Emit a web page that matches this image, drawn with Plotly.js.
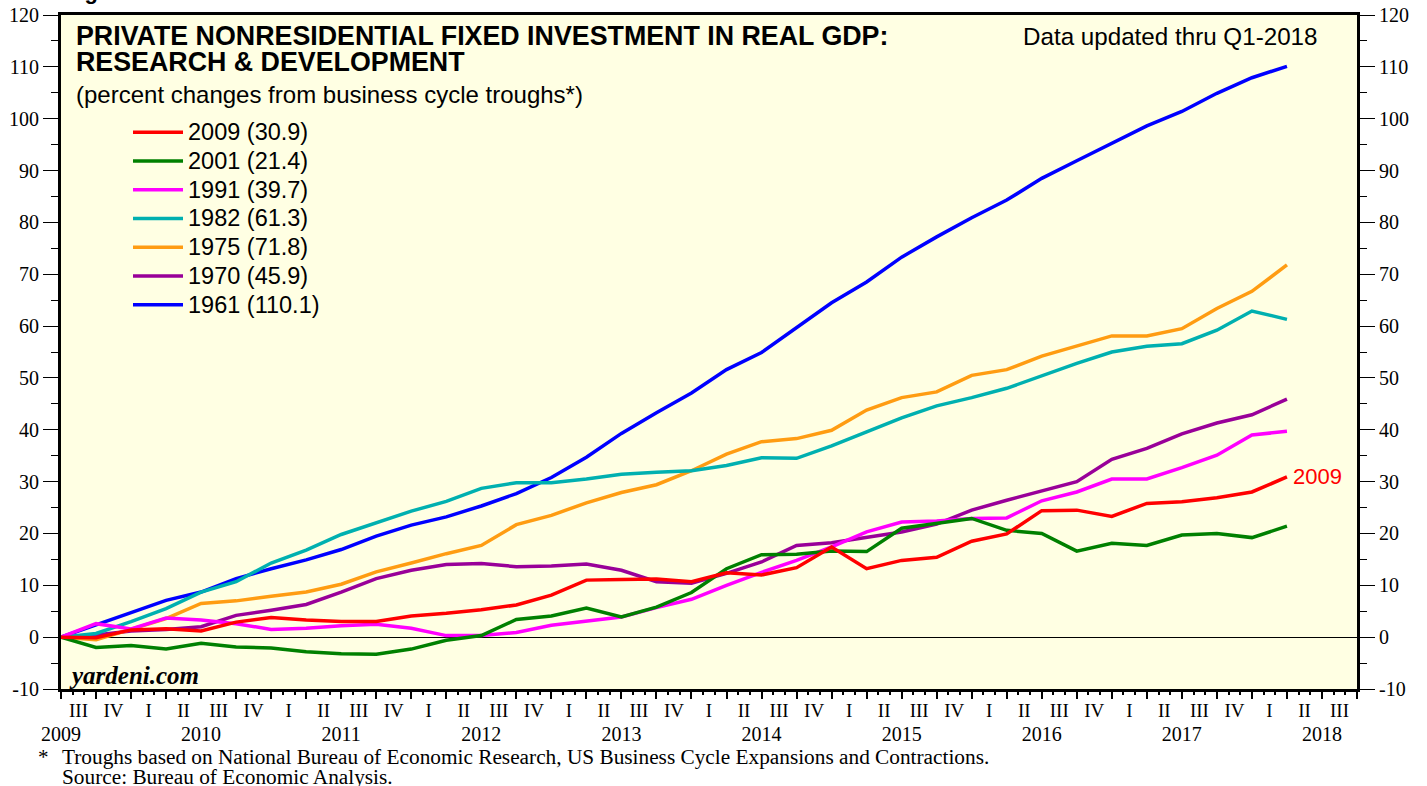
<!DOCTYPE html>
<html>
<head>
<meta charset="utf-8">
<script src="https://cdn.plot.ly/plotly-3.0.1.min.js"></script>
<style>
  html, body { margin: 0; padding: 0; background: #ffffff; }
  #chart { width: 1427px; height: 786px; }
</style>
</head>
<body>
<div id="chart"></div>
<script>
// ---------- DATA ----------
// Quarters since the 2009 business-cycle trough (Q2-2009 = 0) through Q1-2018
const quarters = [
  "2009Q2","2009Q3","2009Q4","2010Q1","2010Q2","2010Q3","2010Q4","2011Q1","2011Q2",
  "2011Q3","2011Q4","2012Q1","2012Q2","2012Q3","2012Q4","2013Q1","2013Q2","2013Q3",
  "2013Q4","2014Q1","2014Q2","2014Q3","2014Q4","2015Q1","2015Q2","2015Q3","2015Q4",
  "2016Q1","2016Q2","2016Q3","2016Q4","2017Q1","2017Q2","2017Q3","2017Q4","2018Q1"
];

const s2009 = [0, -0.1, 1.4, 1.6, 1.2, 2.9, 3.8, 3.3, 3.0, 3.0, 4.1, 4.6, 5.3, 6.2, 8.1, 11.0, 11.1, 11.2,
  10.7, 12.4, 12.0, 13.4, 17.4, 13.2, 14.8, 15.4, 18.5, 19.9, 24.4, 24.5, 23.3, 25.8, 26.1, 26.9, 28.0, 30.9];
const s2001 = [0, -2.0, -1.6, -2.3, -1.2, -1.9, -2.1, -2.8, -3.2, -3.3, -2.3, -0.6, 0.3, 3.4, 4.1, 5.6, 3.9, 5.8,
  8.6, 13.2, 15.9, 16.0, 16.6, 16.5, 21.0, 22.0, 22.9, 20.6, 20.0, 16.6, 18.1, 17.7, 19.7, 20.0, 19.2, 21.4];
const s1991 = [0, 2.6, 1.6, 3.7, 3.3, 2.6, 1.5, 1.7, 2.2, 2.5, 1.7, 0.3, 0.3, 0.9, 2.3, 3.1, 3.9, 5.7,
  7.3, 10.0, 12.5, 14.8, 17.4, 20.3, 22.2, 22.4, 22.9, 23.0, 26.3, 28.0, 30.5, 30.5, 32.7, 35.1, 39.0, 39.7];
const s1982 = [0, 0.7, 3.0, 5.5, 8.7, 10.7, 14.3, 16.8, 19.8, 22.1, 24.3, 26.2, 28.7, 29.8, 29.8, 30.5, 31.4, 31.8,
  32.1, 33.1, 34.6, 34.5, 36.9, 39.6, 42.3, 44.6, 46.2, 48.0, 50.4, 52.8, 55.0, 56.1, 56.6, 59.2, 62.9, 61.3];
const s1975 = [0, -0.5, 1.5, 3.6, 6.5, 7.0, 7.9, 8.7, 10.2, 12.6, 14.3, 16.1, 17.7, 21.7, 23.5, 25.9, 27.9, 29.4,
  32.1, 35.3, 37.7, 38.3, 39.9, 43.8, 46.2, 47.3, 50.5, 51.6, 54.2, 56.1, 58.1, 58.1, 59.5, 63.4, 66.7, 71.8];
const s1970 = [0, 0.4, 1.2, 1.5, 2.0, 4.2, 5.2, 6.3, 8.7, 11.3, 12.9, 14.0, 14.2, 13.6, 13.7, 14.1, 12.9, 10.7,
  10.4, 12.3, 14.5, 17.7, 18.2, 19.3, 20.3, 21.8, 24.5, 26.4, 28.2, 30.0, 34.3, 36.4, 39.2, 41.3, 42.9, 45.9];
const s1961 = [0, 2.4, 4.7, 7.1, 8.7, 11.3, 13.2, 14.9, 16.9, 19.5, 21.6, 23.2, 25.3, 27.7, 30.8, 34.7, 39.3, 43.3,
  47.1, 51.6, 54.9, 59.7, 64.5, 68.5, 73.3, 77.2, 80.9, 84.3, 88.5, 91.9, 95.2, 98.6, 101.4, 104.9, 107.9, 110.1];

const troughYears = ["2009", "2001", "1991", "1982", "1975", "1970", "1961"];

// Axis labels
const quarterLabels = [
  "III","IV",
  "I","II","III","IV", "I","II","III","IV", "I","II","III","IV", "I","II","III","IV",
  "I","II","III","IV", "I","II","III","IV", "I","II","III","IV", "I","II","III","IV",
  "I","II","III"
];
const yearLabels = ["2009","2010","2011","2012","2013","2014","2015","2016","2017","2018"];
const yTickVals = [-10, 0, 10, 20, 30, 40, 50, 60, 70, 80, 90, 100, 110, 120];
const yTickText = ["-10","0","10","20","30","40","50","60","70","80","90","100","110","120"];

// ---------- STYLE ----------
const SANS = "'Liberation Sans', Arial, Helvetica, sans-serif";
const SERIF = "'Liberation Serif', 'Times New Roman', Times, serif";
const colors = {
  "2009": "#FF0000", "2001": "#008000", "1991": "#FF00FF", "1982": "#00B0B0",
  "1975": "#FF9C12", "1970": "#990099", "1961": "#0000FF"
};
const seriesData = { "2009": s2009, "2001": s2001, "1991": s1991, "1982": s1982,
  "1975": s1975, "1970": s1970, "1961": s1961 };

const W = 1427, H = 786;
const M = { l: 61, r: 70, t: 15, b: 97 };
const PX = px => (px - M.l) / (W - M.l - M.r);
const PY = py => (H - M.b - py) / (H - M.t - M.b);

const xIdx = quarters.map((q, i) => i);

// draw oldest first, so 2009 is on top; legend reversed to show 2009 first
const traces = troughYears.slice().reverse().map(yr => {
  const vals = seriesData[yr];
  return {
    type: "scatter", mode: "lines",
    x: xIdx, y: vals,
    name: '<span style="font-size:23.5px">' + yr + " (" + vals[vals.length - 1].toFixed(1) + ")</span>",
    line: { color: colors[yr], width: 3.5 },
    hoverinfo: "skip"
  };
});

// helper traces so overlay axes are drawn
traces.push({ type: "scatter", mode: "lines", x: [], y: [], xaxis: "x2", yaxis: "y2",
  showlegend: false, hoverinfo: "skip" });
traces.push({ type: "scatter", mode: "lines", x: [], y: [], xaxis: "x3", yaxis: "y",
  showlegend: false, hoverinfo: "skip" });

const nQ = quarterLabels.length; // 37 quarters on axis
const xRange = [0, nQ];

const layout = {
  width: W, height: H,
  margin: M,
  paper_bgcolor: "#ffffff",
  plot_bgcolor: "#FFFFE3",
  showlegend: true,
  title: {
    text: "<b>PRIVATE NONRESIDENTIAL FIXED INVESTMENT IN REAL GDP:</b>",
    x: 76 / W, xref: "container", xanchor: "left",
    y: 1 - 36 / H, yref: "container", yanchor: "middle",
    font: { family: SANS, size: 26.8, color: "#000" }
  },
  xaxis: {
    range: xRange, showgrid: false, zeroline: false,
    showline: true, linecolor: "#000", linewidth: 3, mirror: true,
    tickmode: "linear", tick0: 0, dtick: 1,
    ticks: "outside", ticklen: 7, tickwidth: 2, tickcolor: "#000",
    showticklabels: false,
    minor: { tickmode: "linear", tick0: 0, dtick: 1 / 3, ticks: "outside",
      ticklen: 3, tickwidth: 2, tickcolor: "#000", showgrid: false }
  },
  xaxis2: {
    overlaying: "x", anchor: "y2", side: "bottom", range: xRange,
    showgrid: false, zeroline: false, showline: false,
    tickmode: "array", tickvals: quarterLabels.map((q, i) => i + 0.5), ticktext: quarterLabels,
    ticks: "", ticklabelstandoff: 8,
    tickfont: { family: SERIF, size: 19, color: "#000" }
  },
  xaxis3: {
    overlaying: "x", anchor: "y", side: "bottom", range: xRange,
    showgrid: false, zeroline: false, showline: false,
    tickmode: "array", tickvals: yearLabels.map((y, i) => i * 4), ticktext: yearLabels,
    ticks: "", ticklabelstandoff: 31,
    tickfont: { family: SERIF, size: 20, color: "#000" }
  },
  yaxis: {
    range: [-10, 120], showgrid: false,
    zeroline: true, zerolinecolor: "#000", zerolinewidth: 1,
    showline: true, linecolor: "#000", linewidth: 3,
    tickmode: "array", tickvals: yTickVals, ticktext: yTickText,
    ticks: "outside", ticklen: 15, tickwidth: 1, tickcolor: "#000",
    minor: { tickmode: "linear", tick0: 5, dtick: 10, ticks: "outside", ticklen: 7,
      tickwidth: 1, tickcolor: "#000", showgrid: false },
    tickfont: { family: SERIF, size: 20, color: "#000" }
  },
  yaxis2: {
    overlaying: "y", side: "right", anchor: "x2", range: [-10, 120],
    showgrid: false, zeroline: false,
    showline: true, linecolor: "#000", linewidth: 3,
    tickmode: "array", tickvals: yTickVals, ticktext: yTickText,
    ticks: "outside", ticklen: 15, tickwidth: 1, tickcolor: "#000",
    minor: { tickmode: "linear", tick0: 5, dtick: 10, ticks: "outside", ticklen: 7,
      tickwidth: 1, tickcolor: "#000", showgrid: false },
    tickfont: { family: SERIF, size: 20, color: "#000" }
  },
  legend: {
    x: PX(128), y: PY(113), xanchor: "left", yanchor: "top",
    bgcolor: "rgba(0,0,0,0)", borderwidth: 0,
    traceorder: "reversed", itemwidth: 50,
    font: { family: SANS, size: 19.8, color: "#000" }
  },
  annotations: [
    { text: "<b>RESEARCH & DEVELOPMENT</b>", xref: "paper", yref: "paper",
      x: PX(74), y: PY(62.5), xanchor: "left", yanchor: "middle", showarrow: false,
      font: { family: SANS, size: 26.8, color: "#000" } },
    { text: "(percent changes from business cycle troughs*)", xref: "paper", yref: "paper",
      x: PX(74), y: PY(94), xanchor: "left", yanchor: "middle", showarrow: false,
      font: { family: SANS, size: 24, color: "#000" } },
    { text: "Data updated thru Q1-2018", xref: "paper", yref: "paper",
      x: PX(1320), y: PY(36), xanchor: "right", yanchor: "middle", showarrow: false,
      font: { family: SANS, size: 24.2, color: "#000" } },
    { text: "<b><i>yardeni.com</i></b>", xref: "paper", yref: "paper",
      x: PX(67), y: PY(675), xanchor: "left", yanchor: "middle", showarrow: false,
      font: { family: SERIF, size: 25, color: "#000" } },
    { text: troughYears[0], xref: "x", yref: "y",
      x: xIdx[xIdx.length - 1], y: s2009[s2009.length - 1], xanchor: "left", yanchor: "middle",
      xshift: 4, showarrow: false,
      font: { family: SANS, size: 22, color: colors["2009"] } },
    { text: "*", xref: "paper", yref: "paper",
      x: PX(36), y: PY(757), xanchor: "left", yanchor: "middle", showarrow: false,
      font: { family: SERIF, size: 21, color: "#000" } },
    { text: "Troughs based on National Bureau of Economic Research, US Business Cycle Expansions and Contractions.",
      xref: "paper", yref: "paper",
      x: PX(60), y: PY(757), xanchor: "left", yanchor: "middle", showarrow: false,
      font: { family: SERIF, size: 21.3, color: "#000" } },
    { text: "Source: Bureau of Economic Analysis.",
      xref: "paper", yref: "paper",
      x: PX(60), y: PY(777), xanchor: "left", yanchor: "middle", showarrow: false,
      font: { family: SERIF, size: 21.3, color: "#000" } },
    { text: "<b>Figure 8.</b>", xref: "paper", yref: "paper",
      x: PX(63), y: PY(-9), xanchor: "left", yanchor: "middle", showarrow: false,
      font: { family: SANS, size: 22, color: "#000" } }
  ]
};

Plotly.newPlot("chart", traces, layout, { displayModeBar: false, staticPlot: true });
</script>
</body>
</html>
